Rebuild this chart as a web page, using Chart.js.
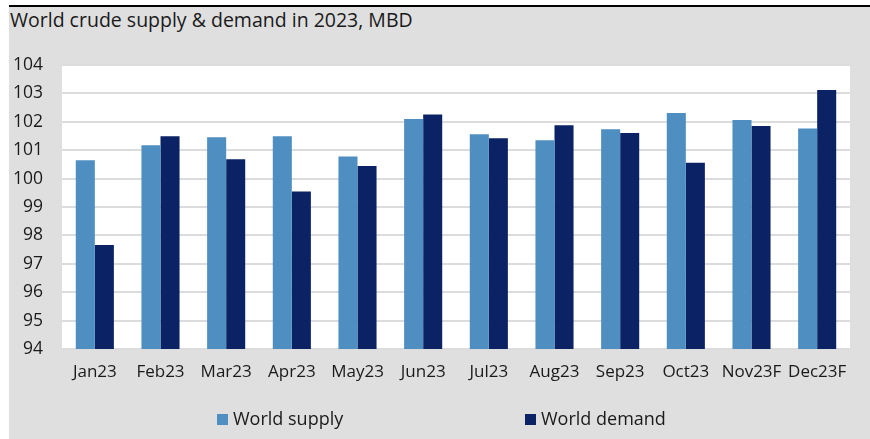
<!DOCTYPE html>
<html>
<head>
<meta charset="utf-8">
<script src="https://cdn.jsdelivr.net/npm/chart.js@4.4.0/dist/chart.umd.min.js"></script>
<style>
  html, body { margin: 0; padding: 0; background: #fff; }
  body { width: 870px; height: 439px; position: relative; overflow: hidden; font-family: "Open Sans", sans-serif; color: #1a1a1a; }
  #rule { position: absolute; left: 9px; top: 5px; width: 861px; height: 2px; background: #000; }
  #panel { position: absolute; left: 9px; top: 7px; width: 861px; height: 432px; background: #dfdfdf; }
  #title { position: absolute; left: 10px; top: 7px; font-size: 19.5px; line-height: 26px; white-space: nowrap; }
  #wrap { position: absolute; left: 9px; top: 7px; width: 861px; height: 432px; }
  #legend { position: absolute; top: 406px; left: 0; width: 870px; height: 24px; font-size: 18px; line-height: 24px; }
  .item { position: absolute; top: 0; white-space: nowrap; }
  .box { display: inline-block; width: 11px; height: 11px; margin-right: 5px; vertical-align: 0px; }
</style>
</head>
<body>
<div id="rule"></div>
<div id="panel"></div>
<div id="title">World crude supply &amp; demand in 2023, MBD</div>
<div id="wrap"><canvas id="chart" width="861" height="432"></canvas></div>
<div id="legend"></div>
<script>
//*Data
const months = ['Jan23', 'Feb23', 'Mar23', 'Apr23', 'May23', 'Jun23', 'Jul23', 'Aug23', 'Sep23', 'Oct23', 'Nov23F', 'Dec23F']
const worldSupply = [100.65, 101.17, 101.46, 101.49, 100.78, 102.10, 101.56, 101.35, 101.74, 102.31, 102.06, 101.76]
const worldDemand = [97.66, 101.49, 100.68, 99.55, 100.44, 102.26, 101.42, 101.88, 101.61, 100.56, 101.85, 103.12]
const yTicks = [94, 95, 96, 97, 98, 99, 100, 101, 102, 103, 104]

const supplyColor = '#4f8ec1'
const demandColor = '#0b2264'

//*White plot area behind bars
const plotBg = {
  id: 'plotBg',
  beforeDraw(chart) {
    const {ctx, chartArea: a} = chart
    ctx.save()
    ctx.fillStyle = '#ffffff'
    ctx.fillRect(a.left, a.top, a.right - a.left, a.bottom - a.top)
    ctx.restore()
  }
}

const ctx = document.getElementById('chart').getContext('2d')
const chart = new Chart(ctx, {
  type: 'bar',
  data: {
    labels: months,
    datasets: [
      { label: 'World supply', data: worldSupply, backgroundColor: supplyColor, borderWidth: 0 },
      { label: 'World demand', data: worldDemand, backgroundColor: demandColor, borderWidth: 0 },
    ],
  },
  options: {
    responsive: false,
    animation: false,
    layout: { padding: { left: 0, right: 20, top: 58, bottom: 50 } },
    datasets: { bar: { categoryPercentage: 0.58, barPercentage: 1 } },
    plugins: {
      legend: { display: false },
      title: { display: false },
      tooltip: { enabled: false },
    },
    scales: {
      x: {
        grid: { display: false, drawTicks: false },
        border: { display: false },
        ticks: { color: '#1a1a1a', font: { family: 'Open Sans', size: 17 }, padding: 13, maxRotation: 0, autoSkip: false },
        afterFit: (s) => { s.height = 40 },
      },
      y: {
        min: 94,
        max: 104,
        afterBuildTicks: (s) => { s.ticks = yTicks.map(v => ({ value: v })) },
        grid: { color: '#dcdcdc', lineWidth: 2, drawTicks: false },
        border: { display: false },
        ticks: { color: '#1a1a1a', font: { family: 'Open Sans', size: 17.5 }, padding: 19 },
        afterFit: (s) => { s.width = 53 },
      },
    },
  },
  plugins: [plotBg],
})

//*Legend in HTML, built from the datasets
const legend = document.getElementById('legend')
const legendX = [217, 525]
chart.data.datasets.forEach((ds, i) => {
  const item = document.createElement('div')
  item.className = 'item'
  item.style.left = legendX[i] + 'px'
  item.innerHTML = `<span class="box" style="background:${ds.backgroundColor}"></span>${ds.label}`
  legend.appendChild(item)
})
</script>
</body>
</html>
